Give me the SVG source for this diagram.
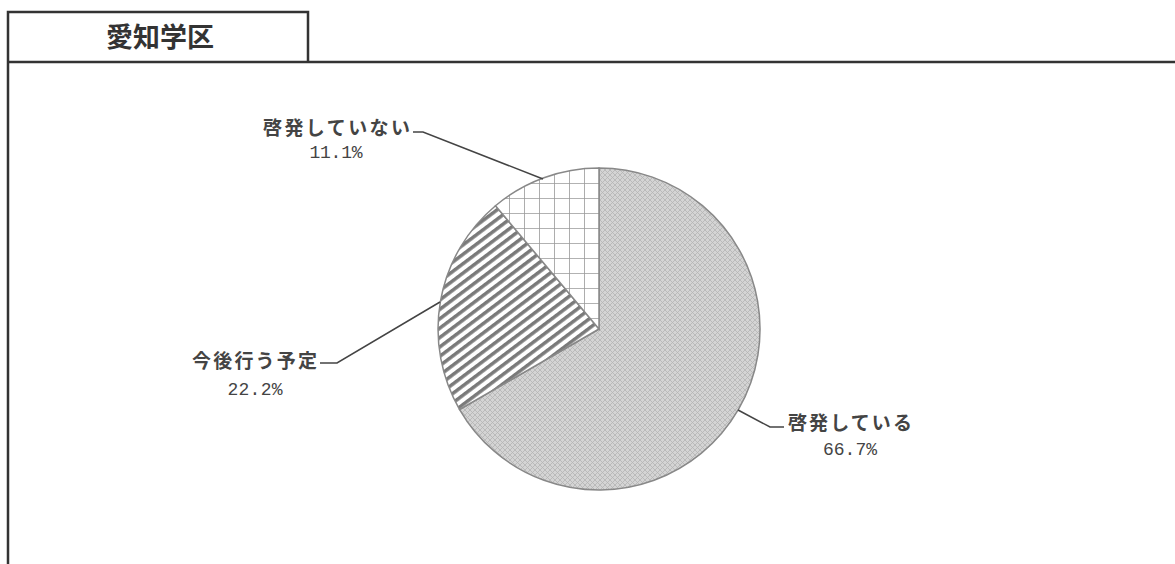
<svg xmlns="http://www.w3.org/2000/svg" width="1175" height="564" viewBox="0 0 1175 564">
<style>
.frame{fill:none;stroke:#333;stroke-width:2.5}
.title{font-family:"Noto Sans CJK JP","Noto Sans CJK SC",sans-serif;font-size:27px;font-weight:bold;fill:#333}
.lbl{font-family:"Noto Sans CJK JP","Noto Sans CJK SC",sans-serif;font-size:19px;font-weight:bold;fill:#444}
.num{font-family:"Liberation Mono",monospace;font-size:18px;fill:#444}
.lead{fill:none;stroke:#444;stroke-width:1.5}
.slice{stroke:#888;stroke-width:1.5}
</style>
<defs>
<pattern id="pGray" width="5" height="5" patternUnits="userSpaceOnUse">
<rect width="5" height="5" fill="#d4d4d4"/>
<path d="M0 0L5 5M5 0L0 5" stroke="#b4b4b4" stroke-width="0.8"/>
</pattern>
<pattern id="pStripe" width="20" height="7.5" patternUnits="userSpaceOnUse" patternTransform="rotate(-37)">
<rect width="20" height="7.5" fill="#fff"/>
<rect y="0" width="20" height="3.5" fill="#7a7a7a"/>
</pattern>
<pattern id="pGrid" x="599" y="168" width="15" height="15" patternUnits="userSpaceOnUse">
<rect width="15" height="15" fill="#fff"/>
<path d="M0 0H15M0 0V15" stroke="#999" stroke-width="1.6"/>
</pattern>
</defs>
<rect width="1175" height="564" fill="#fff"/>
<g id="frame">
<path class="frame" d="M8 564V12H308V62"/>
<path class="frame" d="M8 62H1175"/>
<text class="title" x="160" y="47" text-anchor="middle">愛知学区</text>
</g>
<g id="node-keihatsu-shiteiru">
<path class="slice" fill="url(#pGray)" d="M599 329L599 168A161 161 0 1 1 459.6 409.5Z"/>
</g>
<g id="node-kongo">
<path class="slice" fill="url(#pStripe)" d="M599 329L459.6 409.5A161 161 0 0 1 495.5 205.7Z"/>
</g>
<g id="node-shiteinai">
<path class="slice" fill="url(#pGrid)" d="M599 329L495.5 205.7A161 161 0 0 1 599 168Z"/>
</g>
<g id="connectors">
<path class="lead" d="M413 132H423L543 179"/>
<path class="lead" d="M320 363H337L440 302"/>
<path class="lead" d="M738 410L770 427H784"/>
</g>
<g id="labels">
<text class="lbl" x="263" y="135" textLength="147" lengthAdjust="spacing">啓発していない</text>
<text class="num" x="336" y="158" text-anchor="middle" textLength="53" lengthAdjust="spacing">11.1%</text>
<text class="lbl" x="192" y="368" textLength="125" lengthAdjust="spacing">今後行う予定</text>
<text class="num" x="255" y="395" text-anchor="middle" textLength="55" lengthAdjust="spacing">22.2%</text>
<text class="lbl" x="788" y="430" textLength="124" lengthAdjust="spacing">啓発している</text>
<text class="num" x="850" y="455" text-anchor="middle" textLength="54" lengthAdjust="spacing">66.7%</text>
</g>
</svg>
